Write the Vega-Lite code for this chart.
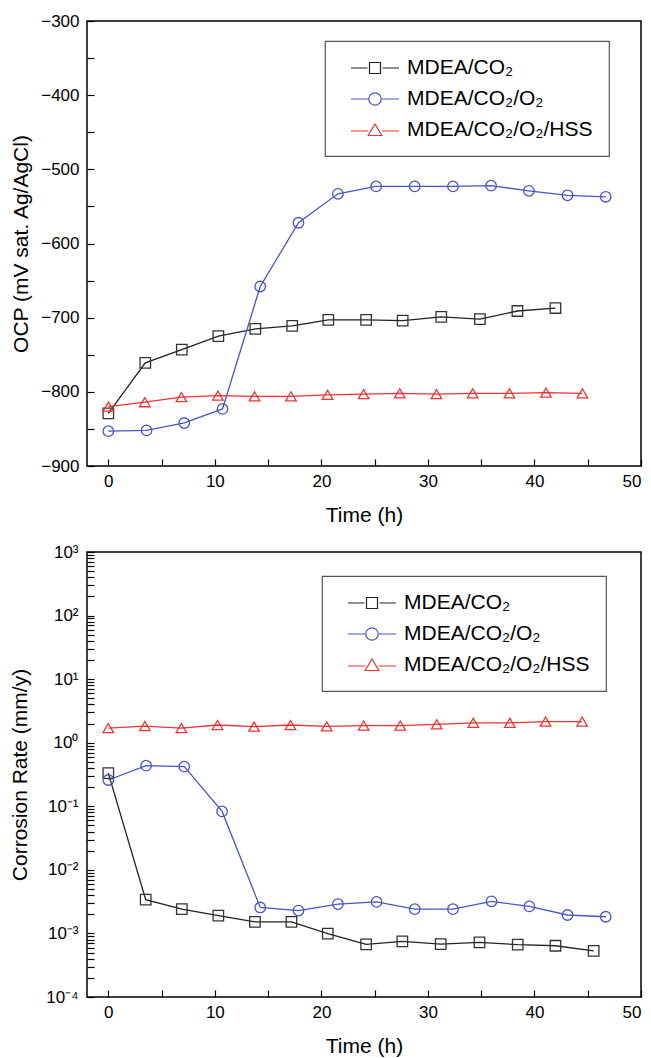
{
  "$schema": "https://vega.github.io/schema/vega-lite/v6.json",
  "padding": {"left": 9, "top": 11, "right": 0, "bottom": 2},
  "spacing": 16,
  "columns": 1,
  "align": "none",
  "config": {
    "font": "Liberation Sans",
    "view": {"stroke": "black", "strokeWidth": 1.5},
    "axis": {
      "domain": false, "grid": false,
      "labelFont": "Liberation Sans", "labelFontSize": 17, "labelColor": "black",
      "titleFont": "Liberation Sans", "titleFontSize": 21, "titleFontWeight": "normal", "titleColor": "black",
      "tickColor": "black", "tickSize": -7, "tickWidth": 1.2
    },
    "axisX": {"labelPadding": 14, "titlePadding": 15},
    "axisY": {"labelPadding": 15, "titlePadding": 9},
    "legend": {
      "orient": "none", "title": null,
      "strokeColor": "#555555", "strokeWidth": 1.2, "padding": 16,
      "labelFont": "Liberation Sans", "labelFontSize": 21, "labelColor": "black", "labelLimit": 400,
      "symbolSize": 400, "symbolStrokeWidth": 1.2, "symbolOffset": 23, "labelOffset": 21, "rowPadding": 10
    }
  },
  "datasets": {
    "ocp": [
      {"series": "MDEA/CO₂", "t": 0, "v": -829}, {"series": "MDEA/CO₂", "t": 3.47, "v": -761}, {"series": "MDEA/CO₂", "t": 6.9, "v": -743}, {"series": "MDEA/CO₂", "t": 10.33, "v": -725}, {"series": "MDEA/CO₂", "t": 13.8, "v": -715}, {"series": "MDEA/CO₂", "t": 17.26, "v": -711}, {"series": "MDEA/CO₂", "t": 20.65, "v": -703}, {"series": "MDEA/CO₂", "t": 24.2, "v": -703}, {"series": "MDEA/CO₂", "t": 27.63, "v": -704}, {"series": "MDEA/CO₂", "t": 31.25, "v": -699}, {"series": "MDEA/CO₂", "t": 34.88, "v": -702}, {"series": "MDEA/CO₂", "t": 38.4, "v": -691}, {"series": "MDEA/CO₂", "t": 41.97, "v": -687},
      {"series": "MDEA/CO₂/O₂", "t": 0, "v": -853}, {"series": "MDEA/CO₂/O₂", "t": 3.59, "v": -852}, {"series": "MDEA/CO₂/O₂", "t": 7.13, "v": -842}, {"series": "MDEA/CO₂/O₂", "t": 10.72, "v": -823}, {"series": "MDEA/CO₂/O₂", "t": 14.26, "v": -658}, {"series": "MDEA/CO₂/O₂", "t": 17.85, "v": -572}, {"series": "MDEA/CO₂/O₂", "t": 21.55, "v": -533}, {"series": "MDEA/CO₂/O₂", "t": 25.14, "v": -523}, {"series": "MDEA/CO₂/O₂", "t": 28.76, "v": -523}, {"series": "MDEA/CO₂/O₂", "t": 32.35, "v": -523}, {"series": "MDEA/CO₂/O₂", "t": 35.93, "v": -522}, {"series": "MDEA/CO₂/O₂", "t": 39.48, "v": -529}, {"series": "MDEA/CO₂/O₂", "t": 43.1, "v": -535}, {"series": "MDEA/CO₂/O₂", "t": 46.69, "v": -537},
      {"series": "MDEA/CO₂/O₂/HSS", "t": 0, "v": -820}, {"series": "MDEA/CO₂/O₂/HSS", "t": 3.43, "v": -814}, {"series": "MDEA/CO₂/O₂/HSS", "t": 6.86, "v": -807}, {"series": "MDEA/CO₂/O₂/HSS", "t": 10.29, "v": -805}, {"series": "MDEA/CO₂/O₂/HSS", "t": 13.72, "v": -806}, {"series": "MDEA/CO₂/O₂/HSS", "t": 17.15, "v": -806}, {"series": "MDEA/CO₂/O₂/HSS", "t": 20.58, "v": -804}, {"series": "MDEA/CO₂/O₂/HSS", "t": 23.97, "v": -803}, {"series": "MDEA/CO₂/O₂/HSS", "t": 27.36, "v": -802}, {"series": "MDEA/CO₂/O₂/HSS", "t": 30.8, "v": -803}, {"series": "MDEA/CO₂/O₂/HSS", "t": 34.2, "v": -802}, {"series": "MDEA/CO₂/O₂/HSS", "t": 37.65, "v": -802}, {"series": "MDEA/CO₂/O₂/HSS", "t": 41.08, "v": -801}, {"series": "MDEA/CO₂/O₂/HSS", "t": 44.5, "v": -802}
    ],
    "cr": [
      {"series": "MDEA/CO₂", "t": 0, "v": 0.332}, {"series": "MDEA/CO₂", "t": 3.51, "v": 0.0034}, {"series": "MDEA/CO₂", "t": 6.9, "v": 0.00241}, {"series": "MDEA/CO₂", "t": 10.33, "v": 0.0019}, {"series": "MDEA/CO₂", "t": 13.76, "v": 0.00152}, {"series": "MDEA/CO₂", "t": 17.19, "v": 0.00152}, {"series": "MDEA/CO₂", "t": 20.6, "v": 0.00099}, {"series": "MDEA/CO₂", "t": 24.2, "v": 0.000673}, {"series": "MDEA/CO₂", "t": 27.6, "v": 0.000752}, {"series": "MDEA/CO₂", "t": 31.2, "v": 0.000681}, {"series": "MDEA/CO₂", "t": 34.84, "v": 0.000724}, {"series": "MDEA/CO₂", "t": 38.43, "v": 0.000665}, {"series": "MDEA/CO₂", "t": 41.97, "v": 0.00064}, {"series": "MDEA/CO₂", "t": 45.56, "v": 0.000532},
      {"series": "MDEA/CO₂/O₂", "t": 0, "v": 0.259}, {"series": "MDEA/CO₂/O₂", "t": 3.55, "v": 0.436}, {"series": "MDEA/CO₂/O₂", "t": 7.13, "v": 0.42}, {"series": "MDEA/CO₂/O₂", "t": 10.68, "v": 0.083}, {"series": "MDEA/CO₂/O₂", "t": 14.26, "v": 0.00256}, {"series": "MDEA/CO₂/O₂", "t": 17.85, "v": 0.00229}, {"series": "MDEA/CO₂/O₂", "t": 21.55, "v": 0.0029}, {"series": "MDEA/CO₂/O₂", "t": 25.18, "v": 0.00313}, {"series": "MDEA/CO₂/O₂", "t": 28.76, "v": 0.00241}, {"series": "MDEA/CO₂/O₂", "t": 32.35, "v": 0.00241}, {"series": "MDEA/CO₂/O₂", "t": 35.97, "v": 0.0032}, {"series": "MDEA/CO₂/O₂", "t": 39.52, "v": 0.00266}, {"series": "MDEA/CO₂/O₂", "t": 43.1, "v": 0.00195}, {"series": "MDEA/CO₂/O₂", "t": 46.69, "v": 0.00183},
      {"series": "MDEA/CO₂/O₂/HSS", "t": 0, "v": 1.70}, {"series": "MDEA/CO₂/O₂/HSS", "t": 3.43, "v": 1.83}, {"series": "MDEA/CO₂/O₂/HSS", "t": 6.86, "v": 1.70}, {"series": "MDEA/CO₂/O₂/HSS", "t": 10.25, "v": 1.90}, {"series": "MDEA/CO₂/O₂/HSS", "t": 13.68, "v": 1.79}, {"series": "MDEA/CO₂/O₂/HSS", "t": 17.1, "v": 1.90}, {"series": "MDEA/CO₂/O₂/HSS", "t": 20.5, "v": 1.81}, {"series": "MDEA/CO₂/O₂/HSS", "t": 23.97, "v": 1.86}, {"series": "MDEA/CO₂/O₂/HSS", "t": 27.4, "v": 1.86}, {"series": "MDEA/CO₂/O₂/HSS", "t": 30.83, "v": 1.95}, {"series": "MDEA/CO₂/O₂/HSS", "t": 34.26, "v": 2.05}, {"series": "MDEA/CO₂/O₂/HSS", "t": 37.69, "v": 2.05}, {"series": "MDEA/CO₂/O₂/HSS", "t": 41.04, "v": 2.15}, {"series": "MDEA/CO₂/O₂/HSS", "t": 44.47, "v": 2.15}
    ]
  },
  "concat": [
    {
      "width": 554, "height": 445,
      "data": {"name": "ocp"},
      "encoding": {
        "x": {"field": "t", "type": "quantitative", "title": "Time (h)",
              "scale": {"domain": [-2, 50], "nice": false, "zero": false},
              "axis": {"values": [0, 5, 10, 15, 20, 25, 30, 35, 40, 45, 50], "labelExpr": "datum.value % 10 === 0 ? datum.label : ''"}},
        "y": {"field": "v", "type": "quantitative", "title": "OCP (mV sat. Ag/AgCl)",
              "scale": {"domain": [-900, -300], "nice": false, "zero": false},
              "axis": {"values": [-900, -850, -800, -750, -700, -650, -600, -550, -500, -450, -400, -350, -300], "labelExpr": "datum.value % 100 === 0 ? datum.label : ''"}}
      },
      "layer": [
        {"mark": {"type": "line", "strokeWidth": 1.3},
         "encoding": {"color": {"field": "series", "type": "nominal", "legend": null,
            "scale": {"domain": ["MDEA/CO₂", "MDEA/CO₂/O₂", "MDEA/CO₂/O₂/HSS"], "range": ["#222222", "#4657c4", "#ee3333"]}}}},
        {"mark": {"type": "point", "filled": false, "size": 110, "strokeWidth": 1.3, "opacity": 1},
         "encoding": {
           "color": {"field": "series", "type": "nominal", "legend": null,
             "scale": {"domain": ["MDEA/CO₂", "MDEA/CO₂/O₂", "MDEA/CO₂/O₂/HSS"], "range": ["#333333", "#4657c4", "#ee3333"]}},
           "shape": {"field": "series", "type": "nominal", "legend": null,
             "scale": {"domain": ["MDEA/CO₂", "MDEA/CO₂/O₂", "MDEA/CO₂/O₂/HSS"], "range": ["square", "circle", "triangle-up"]}}}},
        {"transform": [{"filter": "datum.t < -100"}],
         "mark": {"type": "point", "filled": false, "strokeWidth": 1.2, "opacity": 1},
         "encoding": {
           "color": {"field": "series", "type": "nominal",
             "scale": {"domain": ["MDEA/CO₂", "MDEA/CO₂/O₂", "MDEA/CO₂/O₂/HSS"], "range": ["#222222", "#4657c4", "#ee3333"]},
             "legend": {"legendX": 238, "legendY": 20}},
           "shape": {"field": "series", "type": "nominal",
             "scale": {"domain": ["MDEA/CO₂", "MDEA/CO₂/O₂", "MDEA/CO₂/O₂/HSS"],
                       "range": ["M-2.4,0H-0.75M0.75,0H2.4M-0.55,-0.55H0.55V0.55H-0.55Z",
                                 "M-2.4,0H-0.65M0.65,0H2.4M0.62,0A0.62,0.62,0,1,1,-0.62,0A0.62,0.62,0,1,1,0.62,0Z",
                                 "M-2.4,0.1H-0.7M0.7,0.1H2.4M0,-0.6L0.68,0.55H-0.68Z"]},
             "legend": {"legendX": 238, "legendY": 20}}}},
        {"data": {"values": [{"label": "(a)"}]},
         "mark": {"type": "text", "align": "left", "baseline": "middle", "fontSize": 20, "font": "Liberation Sans", "color": "black"},
         "encoding": {"x": {"datum": 1.2}, "y": {"datum": -332}, "text": {"field": "label"}}}
      ],
      "resolve": {"scale": {"color": "independent", "shape": "independent"}}
    },
    {
      "width": 554, "height": 445,
      "data": {"name": "cr"},
      "encoding": {
        "x": {"field": "t", "type": "quantitative", "title": "Time (h)",
              "scale": {"domain": [-2, 50], "nice": false, "zero": false},
              "axis": {"values": [0, 5, 10, 15, 20, 25, 30, 35, 40, 45, 50], "labelExpr": "datum.value % 10 === 0 ? datum.label : ''"}},
        "y": {"field": "v", "type": "quantitative", "title": "Corrosion Rate (mm/y)",
              "scale": {"type": "log", "domain": [0.0001, 1000], "nice": false},
              "axis": {"values": [0.0001, 0.0002, 0.0003, 0.0004, 0.0005, 0.0006, 0.0007, 0.0008, 0.0009, 0.001, 0.002, 0.003, 0.004, 0.005, 0.006, 0.007, 0.008, 0.009, 0.01, 0.02, 0.03, 0.04, 0.05, 0.06, 0.07, 0.08, 0.09, 0.1, 0.2, 0.3, 0.4, 0.5, 0.6, 0.7, 0.8, 0.9, 1, 2, 3, 4, 5, 6, 7, 8, 9, 10, 20, 30, 40, 50, 60, 70, 80, 90, 100, 200, 300, 400, 500, 600, 700, 800, 900, 1000],
                       "labelPadding": 16, "titlePadding": 15,
                       "labelExpr": "abs(log(datum.value)/LN10 - round(log(datum.value)/LN10)) < 0.001 ? '10' + ['⁻⁴','⁻³','⁻²','⁻¹','⁰','¹','²','³'][round(log(datum.value)/LN10)+4] : ''"}}
      },
      "layer": [
        {"mark": {"type": "line", "strokeWidth": 1.3},
         "encoding": {"color": {"field": "series", "type": "nominal", "legend": null,
            "scale": {"domain": ["MDEA/CO₂", "MDEA/CO₂/O₂", "MDEA/CO₂/O₂/HSS"], "range": ["#222222", "#4657c4", "#ee3333"]}}}},
        {"mark": {"type": "point", "filled": false, "size": 110, "strokeWidth": 1.3, "opacity": 1},
         "encoding": {
           "color": {"field": "series", "type": "nominal", "legend": null,
             "scale": {"domain": ["MDEA/CO₂", "MDEA/CO₂/O₂", "MDEA/CO₂/O₂/HSS"], "range": ["#333333", "#4657c4", "#ee3333"]}},
           "shape": {"field": "series", "type": "nominal", "legend": null,
             "scale": {"domain": ["MDEA/CO₂", "MDEA/CO₂/O₂", "MDEA/CO₂/O₂/HSS"], "range": ["square", "circle", "triangle-up"]}}}},
        {"transform": [{"filter": "datum.t < -100"}],
         "mark": {"type": "point", "filled": false, "strokeWidth": 1.2, "opacity": 1},
         "encoding": {
           "color": {"field": "series", "type": "nominal",
             "scale": {"domain": ["MDEA/CO₂", "MDEA/CO₂/O₂", "MDEA/CO₂/O₂/HSS"], "range": ["#222222", "#4657c4", "#ee3333"]},
             "legend": {"legendX": 235, "legendY": 24}},
           "shape": {"field": "series", "type": "nominal",
             "scale": {"domain": ["MDEA/CO₂", "MDEA/CO₂/O₂", "MDEA/CO₂/O₂/HSS"],
                       "range": ["M-2.4,0H-0.75M0.75,0H2.4M-0.55,-0.55H0.55V0.55H-0.55Z",
                                 "M-2.4,0H-0.65M0.65,0H2.4M0.62,0A0.62,0.62,0,1,1,-0.62,0A0.62,0.62,0,1,1,0.62,0Z",
                                 "M-2.4,0.1H-0.7M0.7,0.1H2.4M0,-0.6L0.68,0.55H-0.68Z"]},
             "legend": {"legendX": 235, "legendY": 24}}}},
        {"data": {"values": [{"label": "(b)"}]},
         "mark": {"type": "text", "align": "left", "baseline": "middle", "fontSize": 20, "font": "Liberation Sans", "color": "black"},
         "encoding": {"x": {"datum": 0.6}, "y": {"datum": 490}, "text": {"field": "label"}}}
      ],
      "resolve": {"scale": {"color": "independent", "shape": "independent"}}
    }
  ]
}
